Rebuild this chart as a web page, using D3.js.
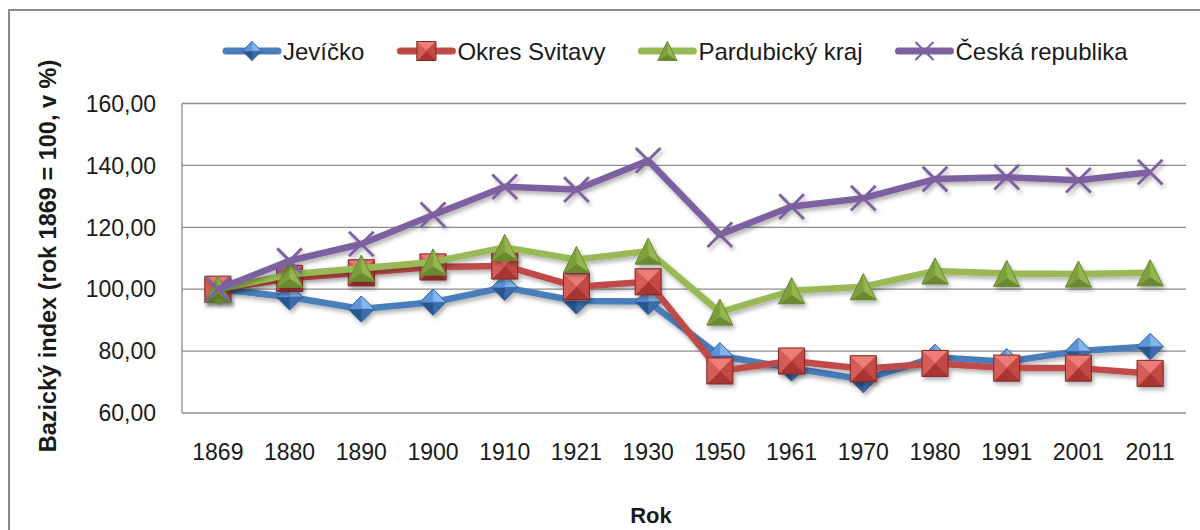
<!DOCTYPE html>
<html>
<head>
<meta charset="utf-8">
<script src="https://cdn.jsdelivr.net/npm/d3@7"></script>
<style>
  body { margin: 0; background: #fff; }
  text { font-family: "Liberation Sans", Arial, sans-serif; fill: #1a1a1a; }
</style>
</head>
<body>
<svg id="chart" width="1200" height="530"></svg>
<script>
// data
const years = ['1869', '1880', '1890', '1900', '1910', '1921', '1930', '1950', '1961', '1970', '1980', '1991', '2001', '2011']
const jevicko = [100, 97.5, 93.6, 95.8, 100.6, 96.2, 96.0, 78.5, 74.5, 70.8, 78.0, 76.6, 80.0, 81.5]
const okresSvitavy = [100, 103.5, 105.3, 107.2, 107.5, 100.8, 102.4, 73.6, 76.8, 74.3, 76.0, 74.5, 74.5, 72.8]
const pardubickyKraj = [100, 104.8, 106.8, 108.8, 113.5, 109.6, 112.3, 92.6, 99.5, 100.8, 105.9, 105.1, 104.9, 105.3]
const ceskaRepublika = [100, 109.2, 114.6, 124.0, 133.1, 132.2, 141.6, 117.6, 126.7, 129.4, 135.6, 136.2, 135.2, 137.8]
const yTicks = [60, 80, 100, 120, 140, 160]

const series = [
    { name: 'Jevíčko', values: jevicko, color: '#4a7ebb', shape: 'diamond',
      shades: ['#86b6ee', '#5d95d8', '#3a6cab', '#2b5790'], edge: '#2f5f9a' },
    { name: 'Okres Svitavy', values: okresSvitavy, color: '#be4b48', shape: 'square',
      shades: ['#ec7d79', '#d65c58', '#c44844', '#a83531'], edge: '#7e2a27' },
    { name: 'Pardubický kraj', values: pardubickyKraj, color: '#98b954', shape: 'triangle',
      shades: ['#b0d26c', '#93b74d', '#7f9f3e', '#6a8a30'], edge: '#6a8a30' },
    { name: 'Česká republika', values: ceskaRepublika, color: '#7d60a0', shape: 'cross' },
]

const svg = d3.select('#chart')
const W = 1200, H = 530
const plot = { left: 182, right: 1186, top: 103.5, bottom: 413 }

svg.append('rect').attr('width', W).attr('height', H).attr('fill', '#fff')
// outer chart frame (runs off the picture at right and bottom)
svg.append('rect')
    .attr('x', 9).attr('y', 10).attr('width', 1220).attr('height', 560)
    .attr('fill', 'none').attr('stroke', '#8a8a8a').attr('stroke-width', 2)

const defs = svg.append('defs')
const shadow = defs.append('filter').attr('id', 'shadow')
    .attr('x', '-50%').attr('y', '-50%').attr('width', '200%').attr('height', '200%')
shadow.append('feDropShadow').attr('dx', 2).attr('dy', 3).attr('stdDeviation', 2)
    .attr('flood-color', '#000').attr('flood-opacity', 0.3)

const x = d3.scalePoint().domain(years).range([plot.left, plot.right]).padding(0.5)
const y = d3.scaleLinear().domain([60, 160]).range([plot.bottom, plot.top])

// gridlines
svg.append('g')
    .selectAll('line')
    .data(yTicks)
    .join('line')
    .attr('x1', plot.left).attr('x2', plot.right)
    .attr('y1', d => y(d)).attr('y2', d => y(d))
    .attr('stroke', '#8c8c8c').attr('stroke-width', 1.3)

// y axis line
svg.append('line')
    .attr('x1', plot.left).attr('x2', plot.left)
    .attr('y1', plot.top).attr('y2', plot.bottom)
    .attr('stroke', '#8c8c8c').attr('stroke-width', 1.3)

const fmt = d => d3.format('.2f')(d).replace('.', ',')

svg.append('g')
    .selectAll('text')
    .data(yTicks)
    .join('text')
    .attr('x', 156).attr('y', d => y(d)).attr('dy', '0.36em')
    .attr('text-anchor', 'end').attr('font-size', 23)
    .text(fmt)

svg.append('g')
    .selectAll('text')
    .data(years)
    .join('text')
    .attr('x', d => x(d)).attr('y', 460)
    .attr('text-anchor', 'middle').attr('font-size', 23)
    .text(d => d)

svg.append('text')
    .attr('transform', 'translate(56,256) rotate(-90)')
    .attr('text-anchor', 'middle').attr('font-size', 23.5).attr('font-weight', 'bold')
    .text('Bazický index (rok 1869 = 100, v %)')

svg.append('text')
    .attr('x', 651).attr('y', 523)
    .attr('text-anchor', 'middle').attr('font-size', 22).attr('font-weight', 'bold')
    .text('Rok')

// faceted marker, looks like the bevelled Excel markers
function drawMarker(g, s, size) {
    const h = size / 2
    if (s.shape === 'cross') {
        const k = h * 0.95
        g.append('path')
            .attr('d', `M${-k},${-k}L${k},${k}M${-k},${k}L${k},${-k}`)
            .attr('stroke', s.color).attr('stroke-width', size * 0.11).attr('fill', 'none')
        return
    }
    let pts
    if (s.shape === 'diamond') pts = [[0, -h], [h, 0], [0, h], [-h, 0]]
    if (s.shape === 'square') pts = [[-h, -h], [h, -h], [h, h], [-h, h]]
    if (s.shape === 'triangle') pts = [[0, -h], [h, h], [-h, h]]
    // facets: top, right, bottom, left order of shading
    const facetShade = s.shape === 'triangle' ? [1, 3, 2] : [0, 2, 3, 1]
    const c = s.shape === 'triangle' ? [0, h * 0.35] : [0, 0]
    pts.forEach((p, i) => {
        const q = pts[(i + 1) % pts.length]
        g.append('path')
            .attr('d', `M${c[0]},${c[1]}L${p[0]},${p[1]}L${q[0]},${q[1]}Z`)
            .attr('fill', s.shades[facetShade[i]])
            .attr('stroke', s.shades[facetShade[i]]).attr('stroke-width', 0.5)
    })
    g.append('path')
        .attr('d', 'M' + pts.map(p => p.join(',')).join('L') + 'Z')
        .attr('fill', 'none').attr('stroke', s.edge).attr('stroke-width', 1)
}

const line = d3.line().x(d => x(d.year)).y(d => y(d.value))

series.forEach(s => {
    const pts = years.map((yr, i) => ({ year: yr, value: s.values[i] }))
    const g = svg.append('g').attr('filter', 'url(#shadow)')
    g.append('path')
        .datum(pts)
        .attr('d', line)
        .attr('fill', 'none')
        .attr('stroke', s.color)
        .attr('stroke-width', 6.5)
        .attr('stroke-linejoin', 'round')
    pts.forEach(p => {
        const m = g.append('g').attr('transform', `translate(${x(p.year)},${y(p.value)})`)
        drawMarker(m, s, 26)
    })
})

// legend
let lx = 226
const ly = 51
series.forEach(s => {
    const g = svg.append('g')
    g.append('line')
        .attr('x1', lx).attr('x2', lx + 52).attr('y1', ly).attr('y2', ly)
        .attr('stroke', s.color).attr('stroke-width', 7).attr('stroke-linecap', 'round')
    const m = g.append('g').attr('transform', `translate(${lx + 26},${ly})`)
    drawMarker(m, s, 19)
    const t = g.append('text')
        .attr('x', lx + 57).attr('y', ly).attr('dy', '0.36em')
        .attr('font-size', 24)
        .text(s.name)
    lx += 57 + t.node().getComputedTextLength() + 36
})
</script>
</body>
</html>
